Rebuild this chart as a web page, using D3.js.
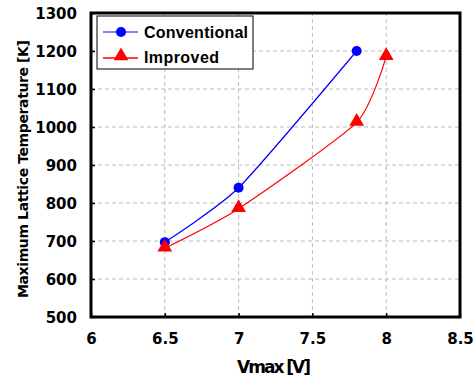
<!DOCTYPE html>
<html>
<head>
<meta charset="utf-8">
<script src="https://cdn.jsdelivr.net/npm/d3@7"></script>
<style>
  body { margin: 0; background: #fff; }
</style>
</head>
<body>
<script>
// data
var conventionalX = [6.5, 7.0, 7.8];
var conventionalY = [697, 840, 1200];
var improvedX = [6.5, 7.0, 7.8, 8.0];
var improvedY = [681, 785, 1012, 1185];
var xTicks = [6, 6.5, 7, 7.5, 8, 8.5];
var yTicks = [500, 600, 700, 800, 900, 1000, 1100, 1200, 1300];
var seriesNames = ["Conventional", "Improved"];

var width = 475, height = 380;
var margin = {left: 91, top: 13, right: 15, bottom: 63};
var heavy = "'DejaVu Sans', sans-serif";

var svg = d3.select("body").append("svg")
    .attr("width", width)
    .attr("height", height);

var x = d3.scaleLinear().domain([6, 8.5]).range([margin.left, width - margin.right]);
var y = d3.scaleLinear().domain([500, 1300]).range([height - margin.bottom, margin.top]);

// dashed grid
var grid = svg.append("g");
grid.selectAll("line.gx")
    .data(xTicks.slice(1, -1))
    .enter().append("line")
    .attr("x1", function (d) { return x(d); })
    .attr("x2", function (d) { return x(d); })
    .attr("y1", y(500)).attr("y2", y(1300))
    .attr("stroke", "#bbb").attr("stroke-width", 1).attr("stroke-dasharray", "4,3");
grid.selectAll("line.gy")
    .data(yTicks.slice(1, -1))
    .enter().append("line")
    .attr("y1", function (d) { return y(d); })
    .attr("y2", function (d) { return y(d); })
    .attr("x1", x(6)).attr("x2", x(8.5))
    .attr("stroke", "#bbb").attr("stroke-width", 1).attr("stroke-dasharray", "4,3");

// axes with inward ticks
var xAxis = svg.append("g")
    .attr("transform", "translate(0," + y(500) + ")")
    .call(d3.axisBottom(x).tickValues(xTicks).tickSizeInner(-4).tickSizeOuter(0).tickPadding(16)
        .tickFormat(function (d) { return d; }));
var yAxis = svg.append("g")
    .attr("transform", "translate(" + x(6) + ",0)")
    .call(d3.axisLeft(y).tickValues(yTicks).tickSizeInner(-4).tickSizeOuter(0).tickPadding(14)
        .tickFormat(d3.format("d")));
[xAxis, yAxis].forEach(function (a) {
    a.select(".domain").remove();
    a.selectAll(".tick line").attr("stroke", "#000").attr("stroke-width", 1.5);
    a.selectAll("text").attr("font-size", 15).attr("fill", "#000")
        .attr("font-family", heavy).attr("font-weight", "bold");
});
yAxis.selectAll("text").attr("dy", "0.35em");

// frame
svg.append("rect")
    .attr("x", x(6)).attr("y", y(1300))
    .attr("width", x(8.5) - x(6)).attr("height", y(500) - y(1300))
    .attr("fill", "none").attr("stroke", "#000").attr("stroke-width", 3);

// lines (smoothed like the spreadsheet)
var line = d3.line()
    .x(function (d) { return x(d[0]); })
    .y(function (d) { return y(d[1]); })
    .curve(d3.curveCardinal.tension(0.4));

var conv = d3.zip(conventionalX, conventionalY);
var impr = d3.zip(improvedX, improvedY);

svg.append("path").datum(conv).attr("d", line)
    .attr("fill", "none").attr("stroke", "blue").attr("stroke-width", 1.2);
svg.append("path").datum(impr).attr("d", line)
    .attr("fill", "none").attr("stroke", "red").attr("stroke-width", 1.2);

var tri = d3.symbol().type(d3.symbolTriangle).size(95);

svg.selectAll("circle.conv").data(conv).enter().append("circle")
    .attr("cx", function (d) { return x(d[0]); })
    .attr("cy", function (d) { return y(d[1]); })
    .attr("r", 5).attr("fill", "blue");
svg.selectAll("path.impr").data(impr).enter().append("path")
    .attr("d", tri)
    .attr("transform", function (d) { return "translate(" + x(d[0]) + "," + (y(d[1]) - 1) + ")"; })
    .attr("fill", "red");

// legend
var lg = svg.append("g");
lg.append("rect").attr("x", 97).attr("y", 16).attr("width", 156).attr("height", 53)
    .attr("fill", "#fff").attr("stroke", "#000").attr("stroke-width", 1);
lg.append("line").attr("x1", 103).attr("x2", 138).attr("y1", 32).attr("y2", 32)
    .attr("stroke", "blue").attr("stroke-width", 1.2);
lg.append("circle").attr("cx", 121).attr("cy", 32).attr("r", 5).attr("fill", "blue");
lg.append("line").attr("x1", 103).attr("x2", 138).attr("y1", 58).attr("y2", 58)
    .attr("stroke", "red").attr("stroke-width", 1.5);
lg.append("path").attr("d", tri).attr("transform", "translate(121,56)").attr("fill", "red");
lg.selectAll("text").data(seriesNames).enter().append("text")
    .attr("x", 144).attr("y", function (d, i) { return 38 + i * 25; })
    .attr("font-size", 16).attr("font-family", "'Liberation Sans', Arial, sans-serif")
    .attr("font-weight", "bold").attr("textLength", function (d, i) { return i === 0 ? 104 : 75; })
    .text(function (d) { return d; });

// axis titles
svg.append("text")
    .attr("x", 274).attr("y", 373)
    .attr("text-anchor", "middle").attr("font-size", 17)
    .attr("font-family", heavy).attr("font-weight", "bold")
    .attr("textLength", 74)
    .text("Vmax [V]");
svg.append("text")
    .attr("transform", "translate(28,169) rotate(-90)")
    .attr("text-anchor", "middle").attr("font-size", 14)
    .attr("font-family", heavy).attr("font-weight", "bold")
    .attr("textLength", 258)
    .text("Maximum Lattice Temperature [K]");
</script>
</body>
</html>
